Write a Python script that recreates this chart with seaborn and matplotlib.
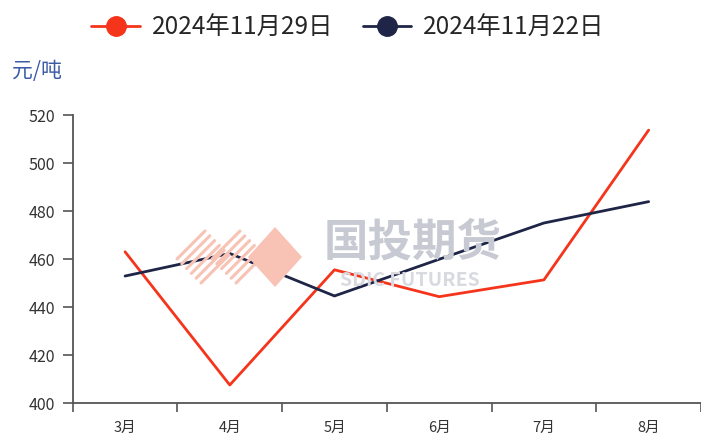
import matplotlib
matplotlib.use("Agg")
import matplotlib.pyplot as plt
import seaborn as sns
import pandas as pd
import numpy as np
from matplotlib.lines import Line2D
from matplotlib.patches import Polygon

months = ["3月", "4月", "5月", "6月", "7月", "8月"]
series_names = ["2024年11月29日", "2024年11月22日"]
vals_1129 = [463, 407.5, 455.5, 444.3, 451.3, 513.7]
vals_1122 = [452.9, 462.3, 444.6, 459.9, 475.0, 483.9]
yticks = [400, 420, 440, 460, 480, 500, 520]
colors = ["#f5341c", "#1f2547"]

sns.set_theme(style="white")
plt.rcParams['font.family'] = ['Noto Sans CJK SC', 'DejaVu Sans']

df = pd.DataFrame({
    "month": months * 2,
    "value": vals_1129 + vals_1122,
    "series": [series_names[0]] * 6 + [series_names[1]] * 6,
})
df["x"] = np.tile(np.arange(len(months)), 2)

W, H = 701, 437
fig = plt.figure(figsize=(W / 100, H / 100), dpi=100)
ax = fig.add_axes([72.7 / W, 1 - 403 / H, (W - 72.7) / W, (403 - 115) / H])


def fp(px, py):
    return (px / W, 1 - py / H)


# watermark logo (decorative)
logo_c = "#f8c2b5"
cx, cy, hw, hh = 275, 257, 27, 30
fig.patches.append(Polygon([fp(cx - hw, cy), fp(cx, cy - hh), fp(cx + hw, cy), fp(cx, cy + hh)],
                           closed=True, transform=fig.transFigure, facecolor=logo_c,
                           edgecolor="none", zorder=0))
for scx in (203, 238):
    for u in np.linspace(-24, 24, 6):
        pts = []
        for v in (-28, 28):
            dx = (u + v) / 2
            dy = (v - u) / 2
            pts.append(fp(scx + dx, cy - dy))
        fig.lines.append(Line2D([pts[0][0], pts[1][0]], [pts[0][1], pts[1][1]],
                                transform=fig.transFigure, color=logo_c, lw=2.2, zorder=0))

ax.patch.set_alpha(0)
fig.text(413 / W, 1 - 243 / H, "国投期货", fontsize=32, color="#c8cad3",
         ha="center", va="center", zorder=0, fontweight="bold")
fig.text(410 / W, 1 - 281 / H, "SDIC FUTURES", fontsize=14, color="#d8dae0",
         ha="center", va="center", zorder=0, fontweight="bold")

sns.lineplot(data=df, x="x", y="value", hue="series", hue_order=series_names,
             palette=colors, linewidth=2.0, ax=ax, legend=False, zorder=3)

ax.set_xlim(-0.5, 5.5)
ax.set_ylim(400, 520)
ax.set_yticks(yticks)
ax.set_yticklabels([str(v) for v in yticks], fontsize=11.5, color="#333333")
ax.set_xticks(range(len(months)))
ax.set_xticklabels(months, fontsize=10.5, color="#333333")
ax.set_xticks(np.arange(-0.5, 5.6, 1), minor=True)
ax.tick_params(axis="x", which="major", length=0, pad=13)
ax.tick_params(axis="x", which="minor", length=6.5, width=1.2, color="#555555", direction="out", bottom=True)
ax.tick_params(axis="y", length=7, width=1.2, color="#555555", direction="out", left=True, pad=6)
ax.set_xlabel("")
ax.set_ylabel("")
for s in ["top", "right"]:
    ax.spines[s].set_visible(False)
for s in ["left", "bottom"]:
    ax.spines[s].set_color("#555555")
    ax.spines[s].set_linewidth(1.3)

fig.text(12 / W, 1 - 71 / H, "元/吨", fontsize=15, color="#3b5ba5", ha="left", va="center")

handles = [Line2D([0], [0], color=c, lw=2, marker="o", markersize=14) for c in colors]
fig.legend(handles, series_names, loc="center", bbox_to_anchor=(348 / W, 1 - 28 / H),
           ncol=2, frameon=False, fontsize=17.5, handlelength=2.0, columnspacing=1.2,
           handletextpad=0.5, borderpad=0, borderaxespad=0)

fig.savefig("out.png", dpi=100)
